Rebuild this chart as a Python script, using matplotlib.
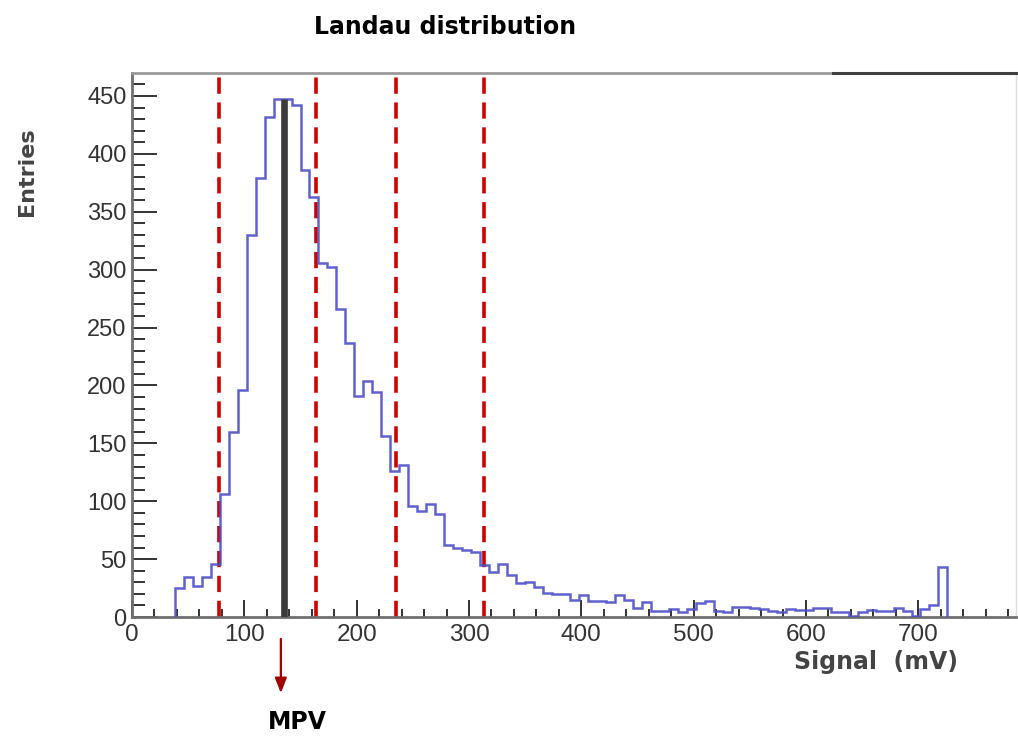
import matplotlib.pyplot as plt
import numpy as np
from matplotlib.ticker import MultipleLocator

# histogram of the signal, 8 mV bins starting at 38 mV
bin_start = 38
bin_width = 8
counts = [25, 35, 27, 35, 46, 106, 160, 196, 330, 379,
          432, 447, 447, 442, 386, 363, 306, 302, 266, 237,
          191, 204, 194, 156, 126, 131, 96, 92, 98, 89,
          62, 60, 58, 56, 45, 39, 46, 36, 29, 30,
          26, 21, 20, 20, 15, 19, 14, 14, 13, 19,
          15, 8, 13, 5, 5, 7, 4, 7, 12, 14,
          5, 4, 9, 9, 8, 7, 5, 4, 7, 6,
          6, 8, 8, 4, 4, 1, 4, 6, 5, 5,
          8, 5, 1, 7, 10, 43]
mpv = 135
cut_lines = [77.5, 164, 235, 313.5]

edges = bin_start + bin_width * np.arange(len(counts) + 1)

fig = plt.figure(figsize=(10.18, 7.39), dpi=100)
ax = fig.add_axes([0.1297, 0.165, 0.8683, 0.7362])

ax.stairs(counts, edges, color="#5050c8", lw=1.8, alpha=0.9, zorder=3)

for x in cut_lines:
    ax.axvline(x, ymin=0.0, ymax=1.0, color="#cc0000", lw=2.6,
               dashes=(4.5, 2.4), zorder=2)

ax.vlines(mpv, 0, max(counts), color="#3c3c3c", lw=4.8, zorder=4)

ax.set_xlim(0, 787)
ax.set_ylim(0, 469.8)

ax.xaxis.set_major_locator(MultipleLocator(100))
ax.xaxis.set_minor_locator(MultipleLocator(20))
ax.yaxis.set_major_locator(MultipleLocator(50))
ax.yaxis.set_minor_locator(MultipleLocator(10))

ax.tick_params(axis="both", which="both", direction="in", colors="#333333",
               width=1.4, top=False, right=False)
ax.tick_params(axis="y", which="major", length=18, pad=4, labelsize=17)
ax.tick_params(axis="y", which="minor", length=9)
ax.tick_params(axis="x", which="major", length=12, pad=5, labelsize=17.5)
ax.tick_params(axis="x", which="minor", length=6)
for lab in ax.get_xticklabels() + ax.get_yticklabels():
    lab.set_family("Liberation Sans")

ax.spines["left"].set_color("#707070")
ax.spines["bottom"].set_color("#707070")
ax.spines["left"].set_linewidth(2)
ax.spines["bottom"].set_linewidth(2)
ax.spines["top"].set_color("#9a9a9a")
ax.spines["top"].set_linewidth(2)
ax.spines["right"].set_color("#dddddd")
ax.spines["right"].set_linewidth(1)
ax.plot([0.793, 1.0], [1.0, 1.0], transform=ax.transAxes, color="#404040",
        lw=2.2, clip_on=False, zorder=5)

# MPV arrow below the axis
ax.annotate("", xy=(mpv - 2.5, -0.145), xytext=(mpv - 2.5, -0.035),
            xycoords=("data", "axes fraction"),
            textcoords=("data", "axes fraction"),
            arrowprops=dict(arrowstyle="-|>,head_length=0.9,head_width=0.35",
                            color="#a00000", lw=1.6))

fig.text(445 / 1018, 1 - 27 / 739, "Landau distribution", ha="center",
         va="center", fontsize=17, fontweight="bold", family="DejaVu Sans")
fig.text(27 / 1018, 1 - 172 / 739, "Entries", rotation=90, ha="center",
         va="center", fontsize=16, fontweight="bold", color="#444444",
         family="DejaVu Sans")
fig.text(958 / 1018, 1 - 662 / 739, "Signal  (mV)", ha="right", va="center",
         fontsize=17, fontweight="bold", color="#444444", family="DejaVu Sans")
fig.text(297 / 1018, 1 - 722 / 739, "MPV", ha="center", va="center",
         fontsize=17, fontweight="bold", color="black", family="DejaVu Sans")

fig.savefig("out.png", dpi=100)
